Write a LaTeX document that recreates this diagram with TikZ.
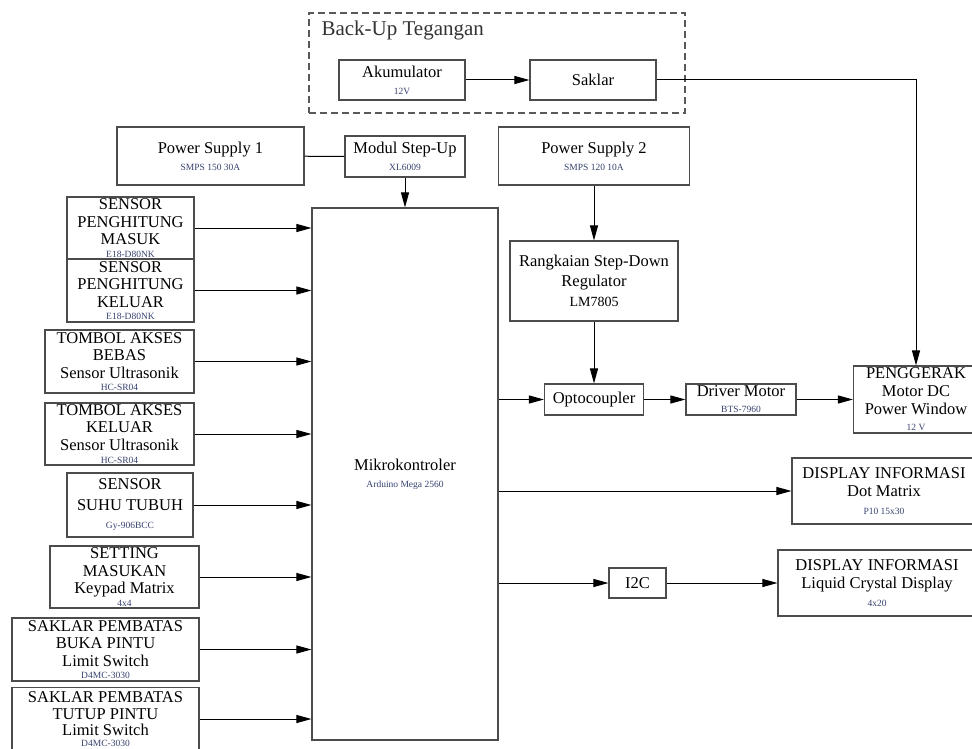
\documentclass[tikz,border=0pt]{standalone}
\usepackage{fontspec}
\setmainfont{Liberation Serif}
\usetikzlibrary{arrows.meta, positioning}
\definecolor{keterangan}{RGB}{55,65,110}
\newcommand{\ket}[1]{{\fontsize{9.5}{10}\selectfont\color{keterangan}#1}}

\begin{document}
\begin{tikzpicture}[
    x=1pt, y=-1pt,
    blok/.style={rectangle, draw=black!70, line width=1.1pt, align=center, inner sep=0pt, font=\fontsize{16.5}{18}\selectfont},
    masukan/.style={blok, font=\fontsize{16.5}{17.5}\selectfont},
    ukuran/.style 2 args={minimum width=#1pt, minimum height=#2pt},
    group/.style={draw=black!65, line width=1.1pt, dash pattern=on 7pt off 4pt},
    arrow/.style={-{Triangle[length=15pt,width=8pt]}, line width=1pt},
    garis/.style={line width=1pt}
]
\useasboundingbox (0,0) rectangle (972,749);

\node[group, ukuran={376}{100}] (backup) at (497,63) {};
\node[anchor=west, text=black!80, font=\fontsize{21}{24}\selectfont] (judul) at (318,30) {Back-Up Tegangan};
\node[blok, ukuran={126}{40}] (akum) at (402,80) {Akumulator\\[-1pt]\ket{12V}};
\node[blok, ukuran={126}{40}] (saklar) at (593,80) {Saklar};

\node[blok, ukuran={187}{58}] (ps1) at (210.5,156) {Power Supply 1\\[-1pt]\ket{SMPS 150 30A}};
\node[blok, ukuran={120}{41}] (stepup) at (405,156.5) {Modul Step-Up\\[-1pt]\ket{XL6009}};
\node[blok, ukuran={191}{58}] (ps2) at (594,156) {Power Supply 2\\[-1pt]\ket{SMPS 120 10A}};
\node[blok, ukuran={168}{80}, font=\fontsize{16.5}{20}\selectfont] (stepdown) at (594,281) {Rangkaian Step-Down\\Regulator\\{\fontsize{14}{16}\selectfont LM7805}};

\node[blok, ukuran={186}{532}] (mikro) at (405,474) {Mikrokontroler\\[-1pt]\ket{Arduino Mega 2560}};

\node[blok, ukuran={99}{31}] (opto) at (594,399.5) {Optocoupler};
\node[blok, ukuran={110}{31}, font=\fontsize{16.5}{16}\selectfont] (driver) at (741,399.5) {Driver Motor\\\ket{BTS-7960}};
\node[blok, ukuran={125}{67}] (penggerak) at (916,399.5) {PENGGERAK\\Motor DC\\Power Window\\[-2pt]\ket{12 V}};
\node[blok, ukuran={184}{66}] (dotmatrix) at (884,491) {DISPLAY INFORMASI\\Dot Matrix\\\ket{P10 15x30}};
\node[blok, ukuran={57}{30}] (i2c) at (637.5,583) {I2C};
\node[blok, ukuran={198}{66}] (lcd) at (877,583) {DISPLAY INFORMASI\\Liquid Crystal Display\\\ket{4x20}};

\node[masukan, ukuran={127}{62}] (hitungmasuk) at (130.5,228) {SENSOR\\PENGHITUNG\\MASUK\\[-5pt]\ket{E18-D80NK}};
\node[masukan, ukuran={127}{63}] (hitungkeluar) at (130.5,290.5) {SENSOR\\PENGHITUNG\\KELUAR\\[-5pt]\ket{E18-D80NK}};
\node[masukan, ukuran={149}{63}] (aksesbebas) at (119.5,361.5) {TOMBOL AKSES\\BEBAS\\Sensor Ultrasonik\\[-5pt]\ket{HC-SR04}};
\node[masukan, ukuran={149}{62}] (akseskeluar) at (119.5,434) {TOMBOL AKSES\\KELUAR\\Sensor Ultrasonik\\[-4pt]\ket{HC-SR04}};
\node[masukan, ukuran={126}{64}] (suhu) at (130,505) {SENSOR\\[3pt]SUHU TUBUH\\[1pt]\ket{Gy-906BCC}};
\node[masukan, ukuran={149}{62}] (keypad) at (124.5,577) {SETTING\\MASUKAN\\Keypad Matrix\\[-5pt]\ket{4x4}};
\node[masukan, ukuran={187}{63}] (bukapintu) at (105.5,649.5) {SAKLAR PEMBATAS\\BUKA PINTU\\Limit Switch\\[-5pt]\ket{D4MC-3030}};
\node[masukan, ukuran={187}{63}, font=\fontsize{16.5}{16.5}\selectfont] (tutuppintu) at (105.5,719) {SAKLAR PEMBATAS\\TUTUP PINTU\\Limit Switch\\[-6pt]\ket{D4MC-3030}};

\draw[arrow] (akum) -- (saklar);
\draw[arrow] (saklar.east) -| (penggerak.north);
\draw[garis] (ps1) -- (stepup);
\draw[arrow] (stepup) -- (mikro);
\draw[arrow] (ps2) -- (stepdown);
\draw[arrow] (stepdown) -- (opto);
\draw[arrow] (mikro.east |- opto.west) -- (opto.west);
\draw[arrow] (opto) -- (driver);
\draw[arrow] (driver) -- (penggerak);
\draw[arrow] (mikro.east |- dotmatrix.west) -- (dotmatrix.west);
\draw[arrow] (mikro.east |- i2c.west) -- (i2c.west);
\draw[arrow] (i2c) -- (lcd);
\foreach \n in {hitungmasuk, hitungkeluar, aksesbebas, akseskeluar, suhu, keypad, bukapintu, tutuppintu}
    \draw[arrow] (\n.east) -- (\n.east -| mikro.west);

\end{tikzpicture}
\end{document}
